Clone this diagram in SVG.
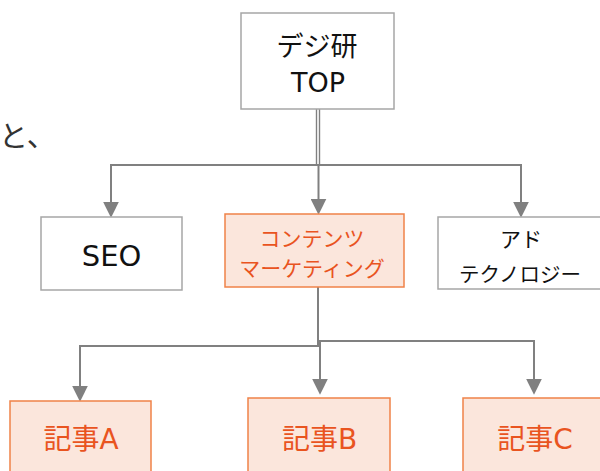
<svg xmlns="http://www.w3.org/2000/svg" width="600" height="471" viewBox="0 0 600 471">
<style>
.box{fill:#ffffff;stroke:#a6a6a6;stroke-width:1.5}
.obox{fill:#fbe6dc;stroke:#f08248;stroke-width:1.5}
.t{font-family:"DejaVu Sans","Noto Sans CJK JP",sans-serif;fill:#111111;text-anchor:middle}
.ot{font-family:"DejaVu Sans","Noto Sans CJK JP",sans-serif;fill:#e9541f;text-anchor:middle}
.c{fill:none;stroke:#808080;stroke-width:2}
.c2{fill:none;stroke:#808080;stroke-width:1.4}
</style>
<defs>
<marker id="ah" markerUnits="userSpaceOnUse" markerWidth="16" markerHeight="16" viewBox="0 0 15 15" refX="5" refY="7.5" orient="auto">
<path d="M0,0 L15,7.5 L0,15 z" fill="#808080"/>
</marker>
</defs>
<text x="-1" y="147" font-family="'Noto Sans CJK JP',sans-serif" font-size="29" fill="#333333">と、</text>
<g id="connectors">
<path class="c2" d="M316.5,109 V165"/>
<path class="c" d="M317,165 H111 V207" marker-end="url(#ah)"/>
<path class="c" d="M317,165 H521 V207" marker-end="url(#ah)"/>
<path class="c2" d="M319.5,109 V165"/>
<path class="c" d="M318.5,165 V204" marker-end="url(#ah)"/>
<path class="c" d="M318,287 V346 H80 V391" marker-end="url(#ah)"/>
<path class="c" d="M319,341 H534 V384" marker-end="url(#ah)"/>
<path class="c" d="M320,341 V384" marker-end="url(#ah)"/>
</g>
<g id="top">
<rect class="box" x="241" y="13" width="153" height="96"/>
<text class="t" x="317" y="56" font-size="27">デジ研</text>
<text class="t" x="318" y="92" font-size="27">TOP</text>
</g>
<g id="seo">
<rect class="box" x="41" y="217" width="141" height="73"/>
<text class="t" x="111.5" y="266" font-size="29">SEO</text>
</g>
<g id="contents">
<rect class="obox" x="225" y="214" width="179" height="73"/>
<text class="ot" x="312" y="246" font-size="21">コンテンツ</text>
<text class="ot" x="312" y="276" font-size="21">マーケティング</text>
</g>
<g id="ad">
<rect class="box" x="438" y="217" width="166" height="72"/>
<text class="t" x="521" y="247" font-size="21">アド</text>
<text class="t" x="520" y="282" font-size="20.5">テクノロジー</text>
</g>
<g id="a">
<rect class="obox" x="10" y="401" width="141" height="80"/>
<text class="ot" x="81" y="449" font-size="28">記事A</text>
</g>
<g id="b">
<rect class="obox" x="248" y="398" width="142" height="80"/>
<text class="ot" x="319.5" y="449" font-size="28">記事B</text>
</g>
<g id="c">
<rect class="obox" x="463" y="398" width="145" height="80"/>
<text class="ot" x="535" y="449" font-size="28">記事C</text>
</g>
</svg>
